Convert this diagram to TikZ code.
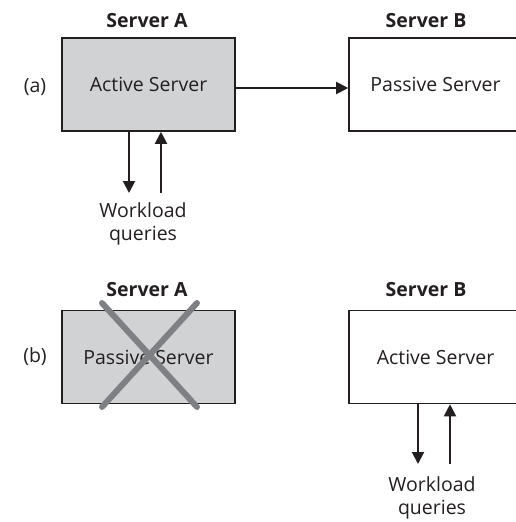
\documentclass[tikz,border=0pt]{standalone}
\usepackage{fontspec}
\setmainfont{Open Sans}
\usetikzlibrary{arrows.meta}
\definecolor{ServerFill}{HTML}{D1D2D4}
\definecolor{ServerLine}{HTML}{231F20}
\definecolor{CrossGray}{HTML}{7F8083}

\begin{document}
\begin{tikzpicture}[x=1pt,y=-1pt,
    server/.style={draw=ServerLine,line width=1.6pt,minimum width=173pt,minimum height=93pt,
      inner sep=0pt,text=ServerLine,font=\fontsize{19.5}{23}\selectfont},
    heading/.style={text=ServerLine,font=\bfseries\fontsize{19.5}{23}\selectfont},
    caption/.style={text=ServerLine,align=center,font=\fontsize{19.5}{23}\selectfont},
    flow/.style={draw=ServerLine,line width=2pt,-{Triangle[length=12pt,width=12pt]}},
    cross/.style={draw=CrossGray,line width=6pt,line cap=round}]
  \clip (0,0) rectangle (516,522);
  % (a) normal operation
  \node[caption] (labelA) at (35,87) {(a)};
  \node[server,fill=ServerFill] (activeA) at (148.5,84.5) {Active Server};
  \node[server,fill=white] (passiveB) at (435.5,84.5) {Passive Server};
  \node[heading] (headA) at (147,21) {Server A};
  \node[heading] (headB) at (426,21) {Server B};
  \draw[flow] ([yshift=-3.5pt]activeA.east) -- ([yshift=-3.5pt]passiveB.west);
  \coordinate (downA) at (129,193);
  \coordinate (upA) at (161,193);
  \draw[flow] (activeA.south -| downA) -- (downA);
  \draw[flow] (upA) -- (activeA.south -| upA);
  \node[caption] (loadA) at (143,224) {Workload\\queries};
  % (b) after failover
  \node[caption] (labelB) at (35,357) {(b)};
  \node[server,fill=ServerFill] (failedA) at (148.5,357) {Passive Server};
  \node[server,fill=white] (activeB) at (435.5,357) {Active Server};
  \node[heading] (headA2) at (147,290) {Server A};
  \node[heading] (headB2) at (426,290) {Server B};
  \draw[cross] (102,303) -- (197,407);
  \draw[cross] (197,303) -- (102,407);
  \coordinate (downB) at (418,464);
  \coordinate (upB) at (450,464);
  \draw[flow] (activeB.south -| downB) -- (downB);
  \draw[flow] (upB) -- (activeB.south -| upB);
  \node[caption] (loadB) at (432,498) {Workload\\queries};
\end{tikzpicture}
\end{document}
